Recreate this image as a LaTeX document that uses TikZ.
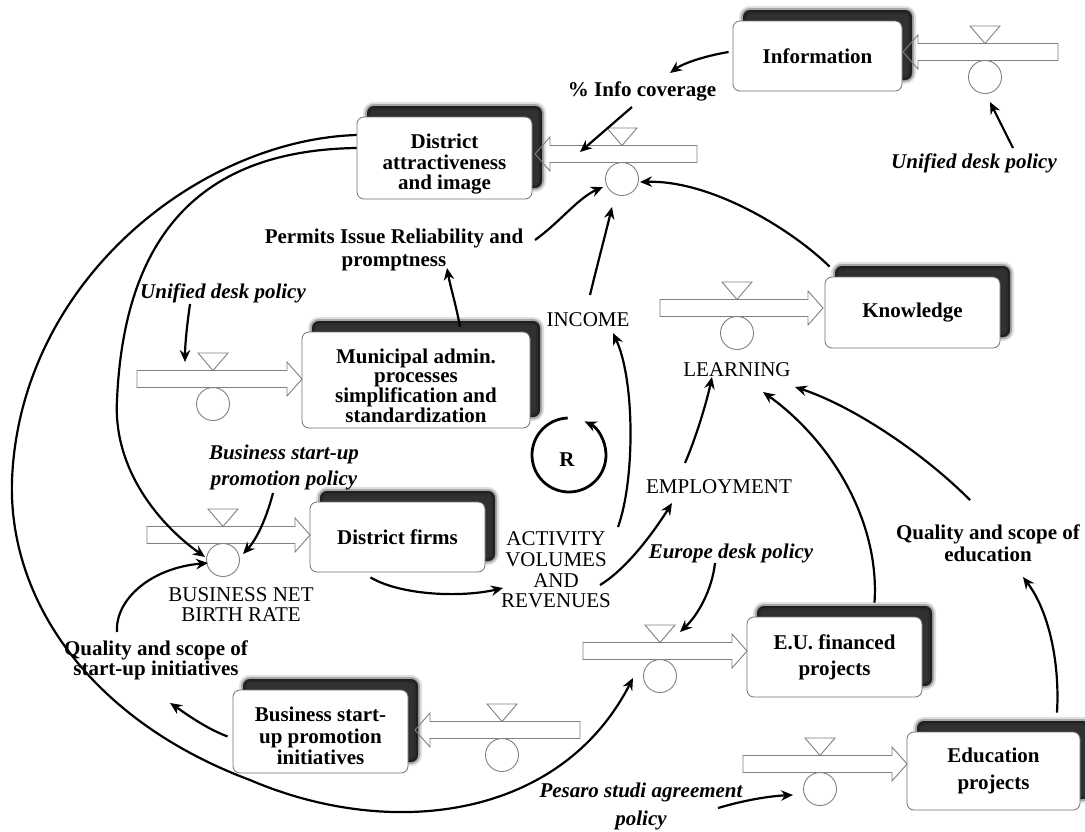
\documentclass[tikz,border=0pt]{standalone}
\usepackage{fontspec}
\setmainfont{Liberation Serif}
\usetikzlibrary{arrows.meta,calc,shadows}

% 21pt type with a chosen line spacing
\newcommand\fsz[1]{\fontsize{21}{#1}\selectfont}
% taller first line, which lowers a block of text inside its box
\newcommand\lowerby[1]{\rule{0pt}{#1}}

% flow pipe: start x, tip x, centre y
\newcommand\flowpipe[3]{%
  \pgfmathsetmacro\hb{#2-15*sign(#2-#1)}%
  \draw[pipe] (#1,#3-8.5) -- (\hb,#3-8.5) -- (\hb,#3-17) -- (#2,#3)
     -- (\hb,#3+17) -- (\hb,#3+8.5) -- (#1,#3+8.5) -- cycle;}
% valve on a pipe: name, x, pipe centre y
\newcommand\flowvalve[3]{%
  \draw[pipe] (#2-15,#3-26) -- (#2+15,#3-26) -- (#2,#3-8.5) -- cycle;
  \node[valve] (#1) at (#2,#3+25) {};}

\tikzset{
  pipe/.style={draw=black!50, line width=0.9pt},
  valve/.style={circle, draw=black!50, line width=0.9pt, fill=white,
    minimum size=33pt, inner sep=0pt},
  stock/.style={rectangle, rounded corners=7pt, draw=black!55, line width=0.8pt,
    fill=white, align=center, inner sep=0pt, font=\bfseries\fsz{21},
    drop shadow={shadow xshift=10pt, shadow yshift=11pt, fill=black, draw=black,
      line width=8pt, opacity=0.12},
    drop shadow={shadow xshift=10pt, shadow yshift=11pt, fill=black, draw=black,
      line width=4pt, opacity=0.25},
    drop shadow={shadow xshift=10pt, shadow yshift=11pt, fill=black, opacity=0.7}},
  lbl/.style={align=center, inner sep=0pt, font=\bfseries\fsz{21}},
  pol/.style={align=center, inner sep=0pt, font=\bfseries\itshape\fsz{26}},
  aux/.style={align=center, inner sep=0pt, font=\fsz{20.5}},
  link/.style={line width=2.2pt, -{Stealth[length=12pt,width=10.5pt,inset=4pt]}},
}

\begin{document}
\begin{tikzpicture}[x=1pt, y=-1pt]
\useasboundingbox (0,0) rectangle (1085,831);
\fill[white] (0,0) rectangle (1085,831);

% stocks
\node[stock, minimum width=169pt, minimum height=70pt] (info) at (817.5,56) {Information};
\node[stock, minimum width=175pt, minimum height=82pt, font=\bfseries\fsz{20.5}] (da) at (444.5,158) {\lowerby{27pt}District\\attractiveness\\and image};
\node[stock, minimum width=228pt, minimum height=96pt, font=\bfseries\fsz{19}] (muni) at (416,380) {\lowerby{26pt}Municipal admin.\\processes\\simplification and\\standardization};
\node[stock, minimum width=175pt, minimum height=71pt] (know) at (912.5,312.5) {Knowledge};
\node[stock, minimum width=175pt, minimum height=70pt] (firms) at (397.5,537) {District firms};
\node[stock, minimum width=175pt, minimum height=80pt, font=\bfseries\fsz{26}] (eu) at (834.5,657) {E.U. financed\\projects};
\node[stock, minimum width=175pt, minimum height=83pt, font=\bfseries\fsz{21.5}] (bspi) at (320.5,731.5) {\lowerby{24pt}Business start-\\up promotion\\initiatives};
\node[stock, minimum width=173pt, minimum height=78pt, font=\bfseries\fsz{27}] (edu) at (993.5,771) {Education\\projects};

% flows and their valves
\flowpipe{1058}{903}{52}
\flowvalve{vInfo}{985}{52}
\flowpipe{697}{535}{154}
\flowvalve{vDA}{622}{154}
\flowpipe{137}{302}{379}
\flowvalve{vMuni}{213}{379}
\flowpipe{660}{823}{308}
\flowvalve{vKnow}{737}{308}
\flowpipe{147}{310}{535}
\flowvalve{vFirms}{223}{535}
\flowpipe{583}{747}{651}
\flowvalve{vEU}{660}{651}
\flowpipe{580}{415}{730}
\flowvalve{vBspi}{502}{730}
\flowpipe{743}{907}{764}
\flowvalve{vEdu}{820}{764}

\coordinate (daInlet) at (580,152);
\coordinate (muniInlet) at (185,362);

% labels
\node[lbl] (infocov) at (642,91) {\% Info coverage};
\node[pol] (udR) at (974,163) {Unified desk policy};
\node[lbl, font=\bfseries\fsz{23}] (permits) at (394,250) {Permits Issue Reliability and\\promptness};
\node[pol] (udL) at (223,293) {Unified desk policy};
\node[aux] (income) at (588,320) {INCOME};
\node[aux] (learning) at (737,370) {LEARNING};
\node[lbl] (loopR) at (567,460) {R};
\node[pol] (bsp) at (284,467) {Business start-up\\promotion policy};
\node[aux] (employment) at (719,487) {EMPLOYMENT};
\node[aux, font=\fsz{20.7}] (activity) at (556,570) {ACTIVITY\\VOLUMES\\AND\\REVENUES};
\node[pol] (europe) at (731,553) {Europe desk policy};
\node[lbl, font=\bfseries\fsz{22}] (qedu) at (988,543) {Quality and scope of\\education};
\node[aux, font=\fsz{20}] (bnbr) at (241,605) {BUSINESS NET\\BIRTH RATE};
\node[lbl, font=\bfseries\fsz{20}] (qsu) at (156,660) {Quality and scope of\\start-up initiatives};
\node[pol, font=\bfseries\itshape\fsz{28}] (pesaro) at (641,806) {Pesaro studi agreement\\policy};

% causal links
\draw[link] ($(info.west)+(-4,-4)$) .. controls (710,55) and (685,62) .. ($(infocov)+(28,-18)$);
\draw[link] ($(infocov)+(-10,16)$) -- (daInlet);
\draw[link] ($(udR)+(39,-15)$) .. controls (1003,128) and (995,112) .. ($(vInfo)+(5,25)$);
\draw[link] ($(permits)+(141,-10)$) .. controls (560,222) and (578,198) .. ($(vDA)+(-19,8)$);
\draw[link] ($(income)+(2,-25)$) .. controls (598,262) and (606,232) .. ($(vDA)+(-10,28)$);
\draw[link] ($(know.north west)+(5,-10)$) .. controls (790,228) and (710,180) .. ($(vDA)+(18,3)$);
\draw[link] ($(muni.north)+(44,-5)$) .. controls (456,305) and (450,285) .. ($(permits)+(53,18)$);
\draw[link] ($(udL)+(-33,11)$) .. controls (187,325) and (185,345) .. (muniInlet);
\draw[link] ($(bsp)+(-11,26)$) .. controls (266,520) and (256,540) .. ($(vFirms)+(20,-6)$);
\draw[link] ($(qsu)+(-39,-28)$) .. controls (115,600) and (150,568) .. ($(vFirms)+(-15,3)$);
\draw[link] ($(da.west)+(0,-10)$) .. controls (220,150) and (125,215) .. (117,400)
   .. controls (113,470) and (160,525) .. ($(vFirms)+(-18,-3)$);
\draw[link] ($(da.west)+(0,-23)$) .. controls (200,140) and (20,280) .. (12,480)
   .. controls (8,600) and (90,720) .. (250,780)
   .. controls (390,840) and (560,820) .. ($(vEU)+(-27,2)$);
\draw[link] ($(firms.south)+(-27,5)$) .. controls (400,595) and (460,598) .. ($(activity)+(-53,18)$);
\draw[link] ($(activity)+(62,-43)$) .. controls (635,480) and (635,380) .. ($(income)+(25,13)$);
\draw[link] ($(activity)+(44,15)$) .. controls (628,568) and (655,530) .. ($(employment)+(-47,16)$);
\draw[link] ($(employment)+(-34,-24)$) .. controls (695,440) and (706,405) .. ($(learning)+(-25,7)$);
\draw[link] ($(eu.north)+(40,-14)$) .. controls (880,520) and (830,440) .. ($(learning)+(26,22)$);
\draw[link] ($(qedu)+(-18,-43)$) .. controls (920,450) and (850,405) .. ($(learning)+(58,17)$);
\draw[link] ($(edu.north)+(63.5,-19)$) .. controls (1060,660) and (1048,610) .. ($(qedu)+(35,34)$);
\draw[link] ($(europe)+(-16,10)$) .. controls (712,590) and (698,615) .. ($(vEU)+(20,-44)$);
\draw[link] ($(pesaro)+(77,2)$) .. controls (745,800) and (770,796) .. ($(vEdu)+(-27,6)$);
\draw[link] ($(bspi.west)+(-5,5)$) .. controls (205,728) and (185,713) .. ($(qsu)+(14,43)$);

% reinforcing loop marker
\draw[link, line width=2.8pt] ($(loopR)+(0.7,-42)$) arc[start angle=-92, end angle=-425, radius=37];
\end{tikzpicture}
\end{document}
